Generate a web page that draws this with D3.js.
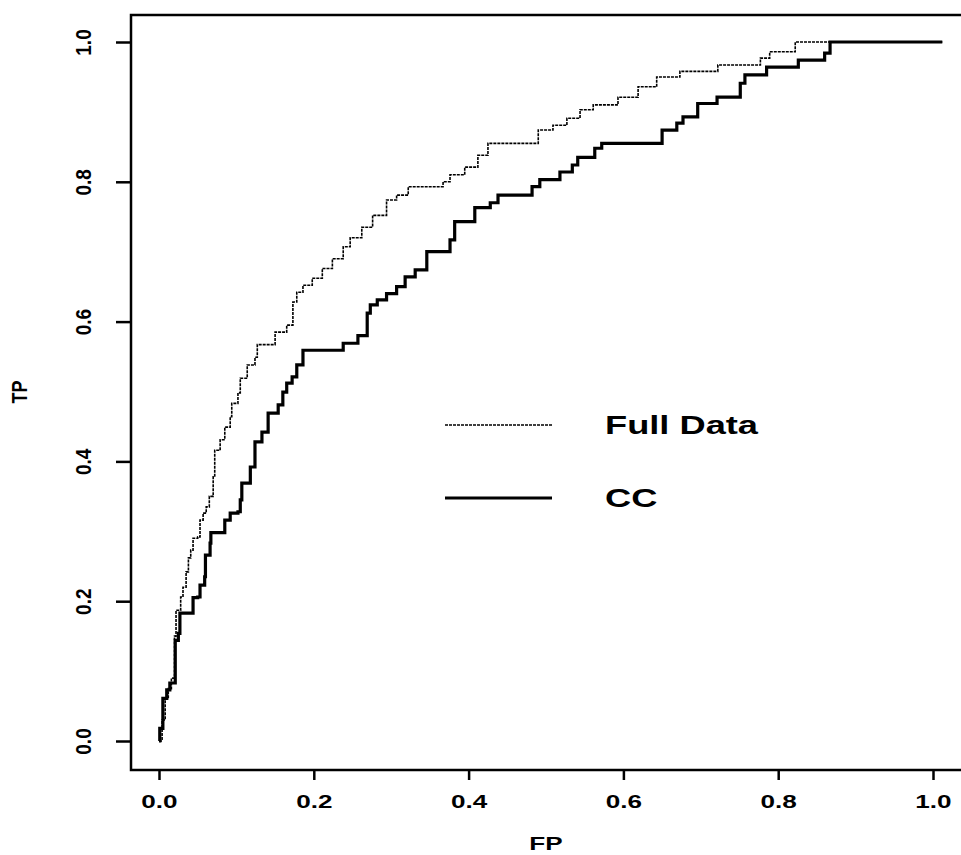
<!DOCTYPE html>
<html>
<head>
<meta charset="utf-8">
<script src="https://cdn.jsdelivr.net/npm/d3@7"></script>
<style>
  body { margin: 0; background: #fff; }
  text { font-family: "Liberation Sans", Arial, sans-serif; fill: #000; }
</style>
</head>
<body>
<div id="chart"></div>
<script>
// ROC points (FP, TP)
const fullDataFP = [0, 0.004, 0.008, 0.012, 0.016, 0.02, 0.022, 0.028, 0.031, 0.035, 0.038, 0.041, 0.044, 0.05, 0.053, 0.057, 0.061, 0.065, 0.07, 0.072, 0.079, 0.085, 0.092, 0.094, 0.102, 0.105, 0.114, 0.124, 0.127, 0.15, 0.165, 0.173, 0.178, 0.186, 0.198, 0.211, 0.224, 0.238, 0.247, 0.262, 0.276, 0.294, 0.307, 0.322, 0.367, 0.376, 0.395, 0.412, 0.425, 0.49, 0.509, 0.527, 0.544, 0.561, 0.593, 0.619, 0.643, 0.673, 0.722, 0.777, 0.789, 0.822, 1.012];
const fullDataTP = [0, 0.03, 0.06, 0.075, 0.09, 0.15, 0.187, 0.206, 0.22, 0.242, 0.262, 0.273, 0.29, 0.292, 0.316, 0.326, 0.335, 0.35, 0.378, 0.416, 0.431, 0.449, 0.464, 0.483, 0.498, 0.519, 0.538, 0.549, 0.567, 0.585, 0.595, 0.628, 0.642, 0.652, 0.662, 0.676, 0.69, 0.707, 0.72, 0.735, 0.752, 0.774, 0.781, 0.793, 0.8, 0.81, 0.821, 0.838, 0.855, 0.874, 0.881, 0.891, 0.903, 0.91, 0.921, 0.936, 0.95, 0.958, 0.967, 0.977, 0.986, 1.0, 1.0];

const ccFP = [0, 0.001, 0.005, 0.01, 0.014, 0.021, 0.025, 0.027, 0.044, 0.05, 0.053, 0.059, 0.06, 0.066, 0.067, 0.085, 0.092, 0.102, 0.105, 0.107, 0.118, 0.124, 0.133, 0.141, 0.154, 0.16, 0.165, 0.172, 0.178, 0.186, 0.238, 0.257, 0.269, 0.273, 0.282, 0.294, 0.307, 0.318, 0.331, 0.346, 0.376, 0.382, 0.408, 0.428, 0.438, 0.482, 0.492, 0.518, 0.534, 0.541, 0.563, 0.572, 0.65, 0.669, 0.677, 0.696, 0.721, 0.751, 0.757, 0.785, 0.826, 0.86, 0.867, 1.012];
const ccTP = [0, 0.018, 0.061, 0.073, 0.083, 0.144, 0.154, 0.183, 0.205, 0.206, 0.223, 0.235, 0.266, 0.283, 0.298, 0.316, 0.326, 0.328, 0.345, 0.369, 0.392, 0.428, 0.442, 0.469, 0.481, 0.499, 0.512, 0.521, 0.538, 0.559, 0.569, 0.58, 0.612, 0.624, 0.631, 0.64, 0.65, 0.664, 0.674, 0.7, 0.717, 0.743, 0.763, 0.77, 0.781, 0.793, 0.803, 0.814, 0.824, 0.835, 0.848, 0.855, 0.874, 0.884, 0.893, 0.912, 0.921, 0.941, 0.953, 0.964, 0.974, 0.984, 1.0, 1.0];

const xTicks = [0, 0.2, 0.4, 0.6, 0.8, 1.0];
const yTicks = [0, 0.2, 0.4, 0.6, 0.8, 1.0];
const legendLabels = ["Full Data", "CC"];

const width = 961, height = 855;
const stretch = 1.45; // the scan is wider than tall, text looks stretched

const svg = d3.select("#chart").append("svg")
    .attr("width", width)
    .attr("height", height);

svg.append("rect").attr("width", width).attr("height", height).attr("fill", "#fff");

const x = d3.scaleLinear().domain([0, 1]).range([159, 933]);
const y = d3.scaleLinear().domain([0, 1]).range([741, 42]);

const box = { left: 131, top: 15, right: 963, bottom: 770 };

// frame
svg.append("rect")
    .attr("x", box.left)
    .attr("y", box.top)
    .attr("width", box.right - box.left)
    .attr("height", box.bottom - box.top)
    .attr("fill", "none")
    .attr("stroke", "#000")
    .attr("stroke-width", 2.5);

// x axis
const xAxis = svg.append("g")
    .attr("transform", `translate(0,${box.bottom})`)
    .call(d3.axisBottom(x).tickValues(xTicks).tickSize(10).tickFormat(d3.format(".1f")));
xAxis.select(".domain").remove();
xAxis.selectAll("line").attr("stroke", "#000").attr("stroke-width", 2.5);
xAxis.selectAll("text")
    .attr("y", 0)
    .attr("dy", null)
    .attr("transform", `translate(0,38) scale(${stretch},1)`)
    .style("font-size", "18px")
    .style("font-weight", "bold");

// y axis
const yAxis = svg.append("g")
    .attr("transform", `translate(${box.left},0)`)
    .call(d3.axisLeft(y).tickValues(yTicks).tickSize(15).tickFormat(d3.format(".1f")));
yAxis.select(".domain").remove();
yAxis.selectAll("line").attr("stroke", "#000").attr("stroke-width", 2.5);
yAxis.selectAll("text")
    .attr("x", 0)
    .attr("y", 0)
    .attr("dy", "0.35em")
    .attr("text-anchor", "middle")
    .attr("transform", "translate(-48,0) scale(1.2,1) rotate(-90)")
    .style("font-size", "19px")
    .style("font-weight", "bold");

// axis titles
svg.append("text")
    .attr("text-anchor", "middle")
    .attr("transform", `translate(546,850) scale(${stretch},1)`)
    .style("font-size", "18px")
    .style("font-weight", "bold")
    .text("FP");

svg.append("text")
    .attr("text-anchor", "middle")
    .attr("dy", "0.35em")
    .attr("transform", "translate(19,392) scale(1.2,1) rotate(-90)")
    .style("font-size", "18px")
    .style("font-weight", "bold")
    .text("TP");

// curves
const line = d3.line()
    .x(d => x(d[0]))
    .y(d => y(d[1]))
    .curve(d3.curveStepAfter);

const fullData = fullDataFP.map((v, i) => [v, fullDataTP[i]]);
const ccData = ccFP.map((v, i) => [v, ccTP[i]]);

svg.append("path")
    .datum(ccData)
    .attr("d", line)
    .attr("fill", "none")
    .attr("stroke", "#000")
    .attr("stroke-width", 3.2);

svg.append("path")
    .datum(fullData)
    .attr("d", line)
    .attr("fill", "none")
    .attr("stroke", "#000")
    .attr("stroke-width", 1.6)
    .attr("stroke-dasharray", "3,1");

// legend
const legendY = [425, 498];
const legendStyle = [
    { w: 1.6, dash: "3,1" },
    { w: 3.2, dash: null }
];
legendLabels.forEach((label, i) => {
    svg.append("line")
        .attr("x1", 445).attr("x2", 552)
        .attr("y1", legendY[i]).attr("y2", legendY[i])
        .attr("stroke", "#000")
        .attr("stroke-width", legendStyle[i].w)
        .attr("stroke-dasharray", legendStyle[i].dash);
    svg.append("text")
        .attr("transform", `translate(605,${legendY[i] + 9}) scale(${stretch},1)`)
        .style("font-size", "25px")
        .style("font-weight", "bold")
        .text(label);
});
</script>
</body>
</html>
